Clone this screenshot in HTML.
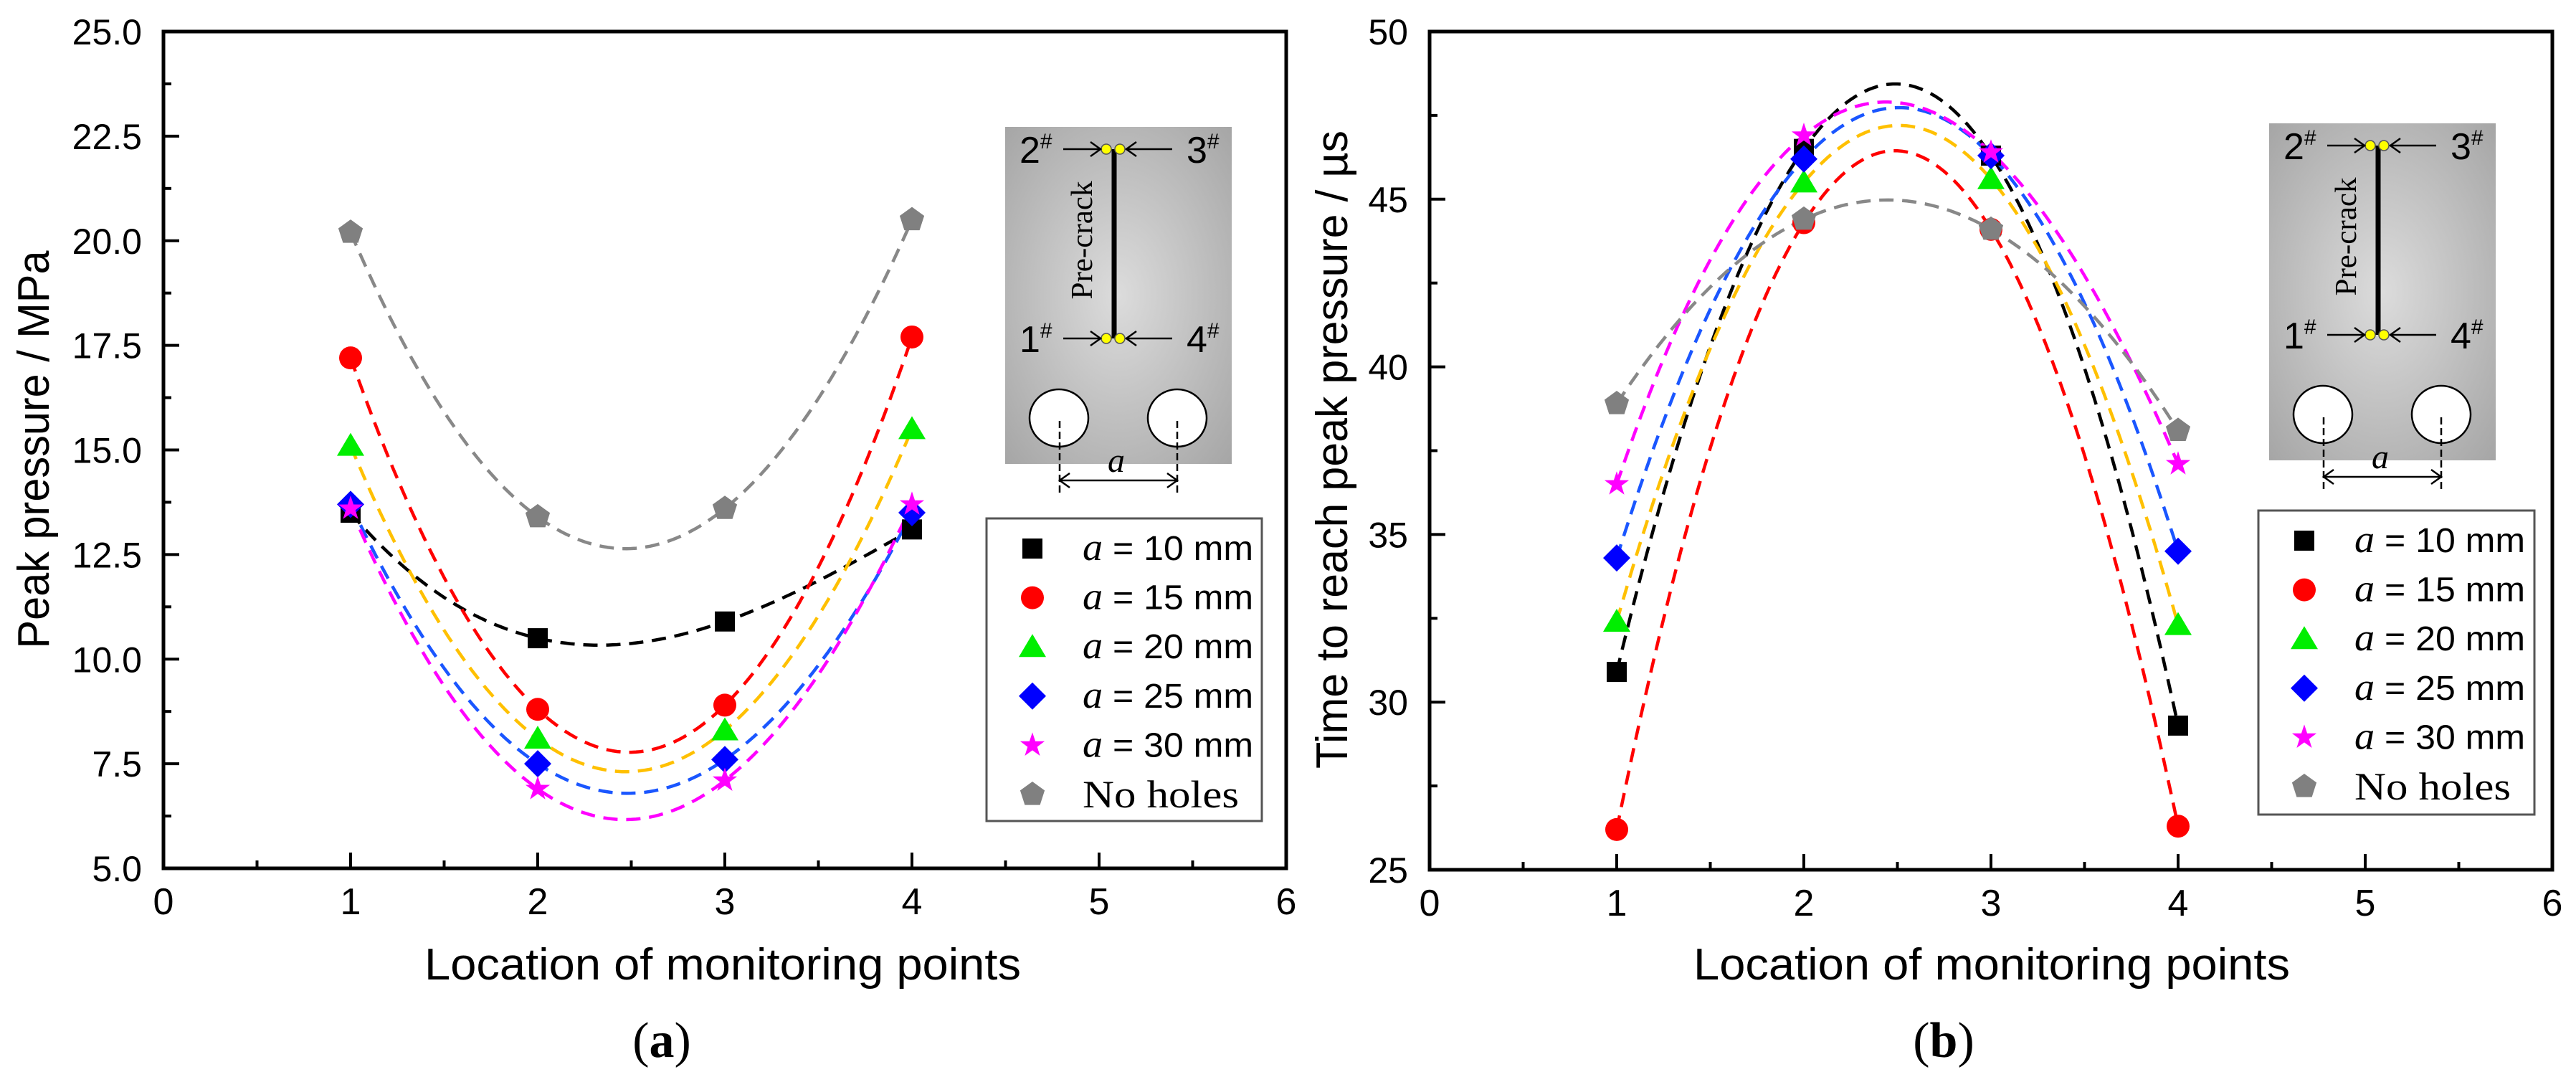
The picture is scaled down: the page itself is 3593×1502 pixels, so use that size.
<!DOCTYPE html>
<html><head><meta charset="utf-8"><style>
html,body{margin:0;padding:0;background:#fff;}
svg{display:block;}
text{font-family:"Liberation Sans",sans-serif;}
.serif{font-family:"Liberation Serif",serif;}
</style></head><body>
<svg id="fig" width="3593" height="1502" viewBox="0 0 3593 1502" xmlns="http://www.w3.org/2000/svg">
<defs>
<radialGradient id="plateGrad" cx="50%" cy="50%" r="70%">
<stop offset="0%" stop-color="#dcdcdc"/><stop offset="100%" stop-color="#a6a6a6"/>
</radialGradient>
</defs>
</svg>
<script>
const categories=[1,2,3,4];
const seriesNames=["a = 10 mm","a = 15 mm","a = 20 mm","a = 25 mm","a = 30 mm","No holes"];
const peakA10=[13.5,10.5,10.9,13.1];
const peakA15=[17.2,8.8,8.9,17.7];
const peakA20=[15.1,8.1,8.3,15.5];
const peakA25=[13.7,7.5,7.6,13.5];
const peakA30=[13.6,6.9,7.1,13.7];
const peakNoHoles=[20.2,13.4,13.6,20.5];
const timeA10=[30.9,46.5,46.3,29.3];
const timeA15=[26.2,44.3,44.1,26.3];
const timeA20=[32.4,45.5,45.6,32.3];
const timeA25=[34.3,46.2,46.3,34.5];
const timeA30=[36.5,46.9,46.4,37.1];
const timeNoHoles=[38.9,44.4,44.1,38.1];
const xTicks=[0,1,2,3,4,5,6];
const yTicksA=["5.0","7.5","10.0","12.5","15.0","17.5","20.0","22.5","25.0"];
const yTicksB=["25","30","35","40","45","50"];

const NS="http://www.w3.org/2000/svg";
const svg=document.getElementById('fig');
function el(tag,attrs,parent){const e=document.createElementNS(NS,tag);for(const k in attrs)e.setAttribute(k,attrs[k]);(parent||svg).appendChild(e);return e;}

const markerColors=["#000000","#ff0000","#00ee00","#0000ff","#ff00ff","#808080"];
const lineColors=["#000000","#ff0000","#ffc000","#1a56ff","#ff00ff","#888888"];
const markerTypes=["square","circle","triangle","diamond","star","pentagon"];

function marker(g,type,cx,cy,color){
  let m;
  if(type==="square") m=el('rect',{x:cx-14,y:cy-14,width:28,height:28,fill:color},g);
  else if(type==="circle") m=el('circle',{cx:cx,cy:cy,r:16,fill:color},g);
  else if(type==="triangle") m=el('polygon',{points:`${cx},${cy-18} ${cx+19},${cy+14} ${cx-19},${cy+14}`,fill:color},g);
  else if(type==="diamond") m=el('polygon',{points:`${cx},${cy-19} ${cx+19},${cy} ${cx},${cy+19} ${cx-19},${cy}`,fill:color},g);
  else if(type==="star"){let p=[];for(let i=0;i<10;i++){const r=i%2?7:18;const a=-Math.PI/2+i*Math.PI/5;p.push((cx+r*Math.cos(a)).toFixed(1)+','+(cy+r*Math.sin(a)).toFixed(1));}m=el('polygon',{points:p.join(' '),fill:color},g);}
  else {let p=[];for(let i=0;i<5;i++){const a=-Math.PI/2+i*2*Math.PI/5;p.push((cx+18*Math.cos(a)).toFixed(1)+','+(cy+18*Math.sin(a)).toFixed(1));}m=el('polygon',{points:p.join(' '),fill:color},g);}
  return m;
}
function lagrange(xs,ys,x){let s=0;for(let i=0;i<xs.length;i++){let t=ys[i];for(let j=0;j<xs.length;j++)if(j!==i)t*=(x-xs[j])/(xs[i]-xs[j]);s+=t;}return s;}

function inset(dx,dy,name){
  const g=el('g',{transform:`translate(${dx},${dy})`});
  
  
  el('rect',{x:0,y:0,width:316,height:470,fill:'url(#plateGrad)'},g);
  el('line',{x1:152,y1:31,x2:152,y2:295,stroke:'#000','stroke-width':7},g);
  [[141,31],[160,31],[141,295],[160,295]].forEach(p=>el('circle',{cx:p[0],cy:p[1],r:7,fill:'#ffff00',stroke:'#555','stroke-width':1.5},g));
  [[31],[295]].forEach(r=>{const y=r[0];
    el('line',{x1:81,y1:y,x2:133,y2:y,stroke:'#000','stroke-width':2.5},g);
    el('polyline',{points:`${119},${y-10} ${133},${y} ${119},${y+10}`,fill:'none',stroke:'#000','stroke-width':2.5},g);
    el('line',{x1:233,y1:y,x2:169,y2:y,stroke:'#000','stroke-width':2.5},g);
    el('polyline',{points:`${183},${y-10} ${169},${y} ${183},${y+10}`,fill:'none',stroke:'#000','stroke-width':2.5},g);
  });
  const lab=[["2",20,50],["3",253,50],["1",20,314],["4",253,314]];
  lab.forEach(l=>{const t=el('text',{x:l[1],y:l[2],'font-size':52,fill:'#000'},g);t.textContent=l[0];const s=el('tspan',{'font-size':30,dy:-20},t);s.textContent='#';});
  const pc=el('text',{x:0,y:0,'font-size':42,class:'serif',transform:'translate(121,158) rotate(-90)','text-anchor':'middle',textLength:165,lengthAdjust:'spacingAndGlyphs',fill:'#000'},g);pc.textContent='Pre-crack';
  el('ellipse',{cx:75,cy:406,rx:41,ry:40,fill:'#fff',stroke:'#000','stroke-width':2.5},g);
  el('ellipse',{cx:240,cy:406,rx:41,ry:40,fill:'#fff',stroke:'#000','stroke-width':2.5},g);
  [76,240].forEach(x=>el('line',{x1:x,y1:410,x2:x,y2:510,stroke:'#000','stroke-width':2.5,'stroke-dasharray':'10,5'},g));
  el('line',{x1:76,y1:493,x2:240,y2:493,stroke:'#000','stroke-width':2.5},g);
  el('polyline',{points:`90,483 76,493 90,503`,fill:'none',stroke:'#000','stroke-width':2.5},g);
  el('polyline',{points:`226,483 240,493 226,503`,fill:'none',stroke:'#000','stroke-width':2.5},g);
  const at=el('text',{x:155,y:481,'font-size':48,class:'serif','font-style':'italic','text-anchor':'middle'},g);at.textContent='a';
}

function panel(cfg){
  const g=el('g',{});
  
  
  const X=v=>cfg.left+(v-0)/6*(cfg.right-cfg.left);
  const Y=v=>cfg.bottom-(v-cfg.ymin)/(cfg.ymax-cfg.ymin)*(cfg.bottom-cfg.top);
  cfg.series.forEach((ys,si)=>{
    let d='';for(let k=0;k<=120;k++){const x=1+3*k/120;d+=(k?'L':'M')+X(x).toFixed(1)+','+Y(lagrange(categories,ys,x)).toFixed(1);}
    const p=el('path',{d:d,fill:'none',stroke:lineColors[si],'stroke-width':4.5,'stroke-dasharray':'20,12'},g);
    
    
  });
  [1,5,0,2,3,4].forEach(si=>{cfg.series[si].forEach((v,i)=>{
    const m=marker(g,markerTypes[si],X(categories[i]),Y(v),markerColors[si]);
    
    
  });});
  const fr=el('rect',{x:cfg.left,y:cfg.top,width:cfg.right-cfg.left,height:cfg.bottom-cfg.top,fill:'none',stroke:'#000','stroke-width':5},g);
  
  
  xTicks.forEach(v=>{
    el('line',{x1:X(v),y1:cfg.bottom,x2:X(v),y2:cfg.bottom-22,stroke:'#000','stroke-width':4},g);
    if(v<6) el('line',{x1:X(v+0.5),y1:cfg.bottom,x2:X(v+0.5),y2:cfg.bottom-11,stroke:'#000','stroke-width':4},g);
    const t=el('text',{x:X(v),y:cfg.bottom+64,'font-size':52,'text-anchor':'middle'},g);t.textContent=v;
    
    
  });
  cfg.yTicks.forEach((lab,i)=>{
    const v=cfg.ymin+i*cfg.ystep;
    el('line',{x1:cfg.left,y1:Y(v),x2:cfg.left+22,y2:Y(v),stroke:'#000','stroke-width':4},g);
    if(i<cfg.yTicks.length-1) el('line',{x1:cfg.left,y1:Y(v+cfg.ystep/2),x2:cfg.left+11,y2:Y(v+cfg.ystep/2),stroke:'#000','stroke-width':4},g);
    const t=el('text',{x:cfg.left-30,y:Y(v)+18,'font-size':50,'text-anchor':'end'},g);t.textContent=lab;
    
    
  });
  const xt=el('text',{x:cfg.xtx,y:1366,'font-size':62,'text-anchor':'middle',textLength:832,lengthAdjust:'spacingAndGlyphs'},g);xt.textContent='Location of monitoring points';
  
  
  const yt=el('text',{x:0,y:0,'font-size':62,'text-anchor':'middle',transform:`translate(${cfg.ytx},627) rotate(-90)`,textLength:cfg.ytl,lengthAdjust:'spacingAndGlyphs'},g);yt.textContent=cfg.ytitle;
  
  
  const pl=el('text',{x:cfg.plx,y:1474,'font-size':70,'text-anchor':'middle',class:'serif'},g);
  pl.textContent='(';const b=el('tspan',{'font-weight':'bold'},pl);b.textContent=cfg.letter;const e2=el('tspan',{},pl);e2.textContent=')';
  
  
  const lg=el('g',{},g);
  
  
  el('rect',{x:cfg.lg[0],y:cfg.lg[1],width:cfg.lg[2],height:cfg.lg[3],fill:'#fff',stroke:'#555','stroke-width':3},lg);
  seriesNames.forEach((n,i)=>{
    const ry=cfg.lg[1]+42+i*68.6;
    const en=el('g',{},lg);
    
    
    marker(en,markerTypes[i],cfg.lg[0]+64,ry,markerColors[i]);
    if(i<5){const t=el('text',{x:cfg.lg[0]+134,y:ry+16,'font-size':48,textLength:238,lengthAdjust:'spacingAndGlyphs'},en);
      const a=el('tspan',{class:'serif','font-style':'italic','font-size':54},t);a.textContent='a';
      const r=el('tspan',{},t);r.textContent=' = '+n.slice(4);}
    else{const t=el('text',{x:cfg.lg[0]+134,y:ry+18,'font-size':54,class:'serif',textLength:218,lengthAdjust:'spacingAndGlyphs'},en);t.textContent=n;}
  });
}

panel({name:'panel-a-peak-pressure',left:228,right:1794,top:44,bottom:1211,ymin:5,ymax:25,ystep:2.5,yTicks:yTicksA,
  series:[peakA10,peakA15,peakA20,peakA25,peakA30,peakNoHoles],xtx:1008,ytx:68,ytl:555,ytitle:'Peak pressure / MPa',
  plx:923,letter:'a',lg:[1376,723,384,422]});
panel({name:'panel-b-time-to-peak',left:1994,right:3560,top:44,bottom:1213,ymin:25,ymax:50,ystep:5,yTicks:yTicksB,
  series:[timeA10,timeA15,timeA20,timeA25,timeA30,timeNoHoles],xtx:2778,ytx:1879,ytl:890,ytitle:'Time to reach peak pressure / µs',
  plx:2711,letter:'b',lg:[3150,712,385,424]});
inset(1402,177,'inset-diagram-a');
inset(3165,172,'inset-diagram-b');
</script>
</body></html>
